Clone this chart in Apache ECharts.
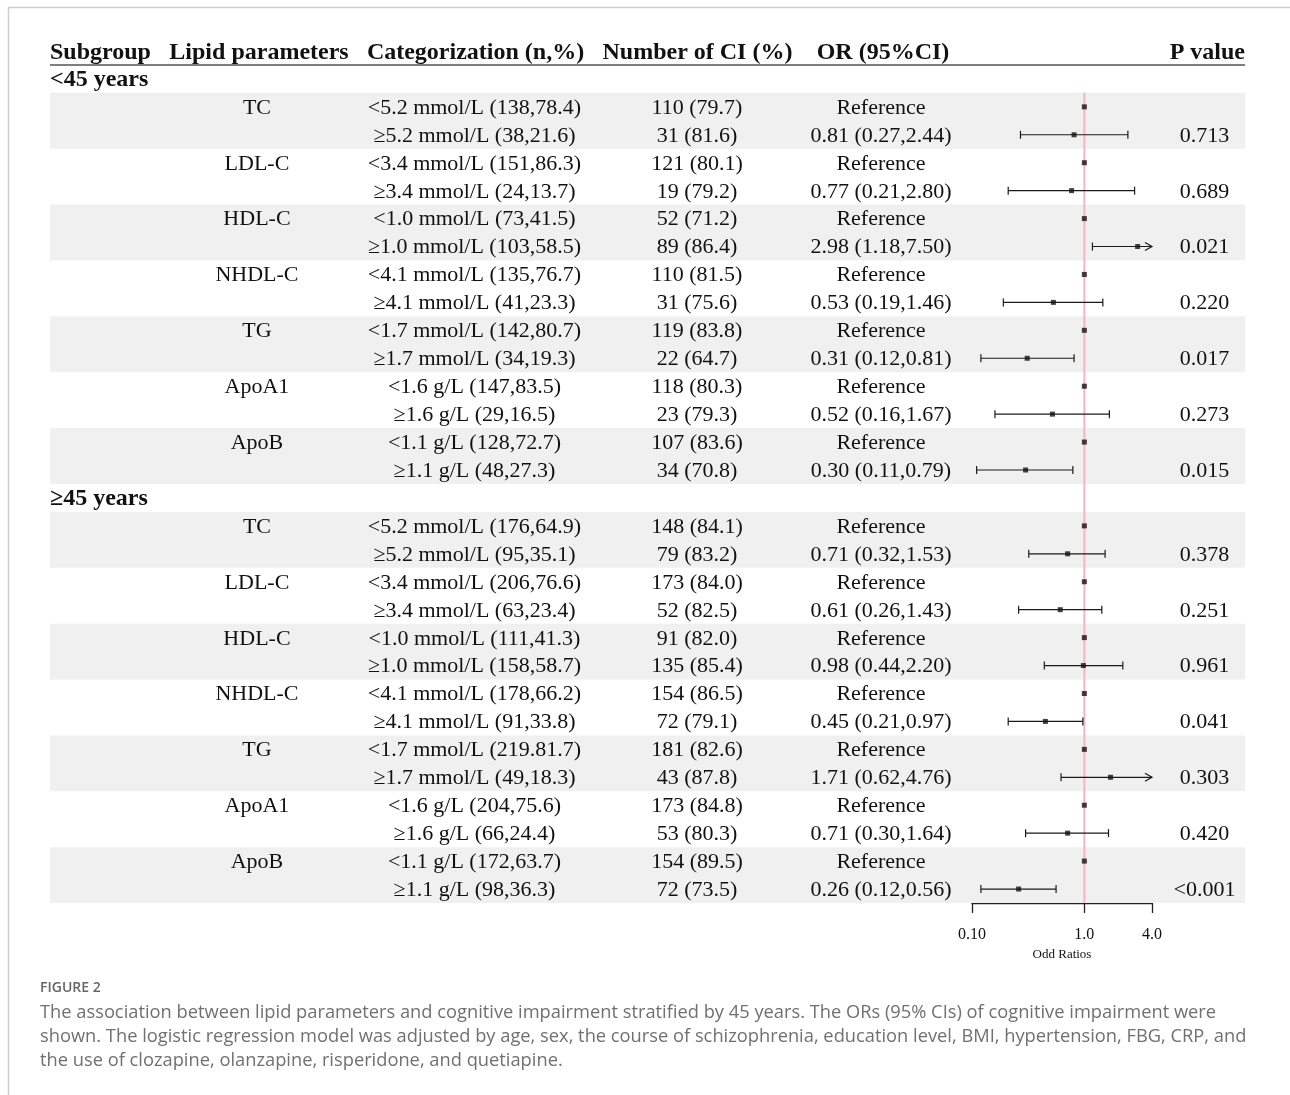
<!DOCTYPE html>
<html>
<head>
<meta charset="utf-8">
<script src="https://cdn.jsdelivr.net/npm/echarts@6/dist/echarts.min.js"></script>
<style>
  html, body { margin: 0; padding: 0; background: #fff; }
  #chart { width: 1290px; height: 1095px; }
</style>
</head>
<body>
<div id="chart"></div>
<script>
// ---- table content ----
const headers = ['Subgroup', 'Lipid parameters', 'Categorization (n,%)', 'Number of CI (%)', 'OR (95%CI)', 'P value'];
const ageGroups = ['<45 years', '≥45 years'];
const lipidParams = ['TC', 'LDL-C', 'HDL-C', 'NHDL-C', 'TG', 'ApoA1', 'ApoB'];

// <45 years
const categoriesUnder45 = [
  '<5.2 mmol/L (138,78.4)', '≥5.2 mmol/L (38,21.6)',
  '<3.4 mmol/L (151,86.3)', '≥3.4 mmol/L (24,13.7)',
  '<1.0 mmol/L (73,41.5)', '≥1.0 mmol/L (103,58.5)',
  '<4.1 mmol/L (135,76.7)', '≥4.1 mmol/L (41,23.3)',
  '<1.7 mmol/L (142,80.7)', '≥1.7 mmol/L (34,19.3)',
  '<1.6 g/L (147,83.5)', '≥1.6 g/L (29,16.5)',
  '<1.1 g/L (128,72.7)', '≥1.1 g/L (48,27.3)'
];
const numberCIUnder45 = [
  '110 (79.7)', '31 (81.6)', '121 (80.1)', '19 (79.2)', '52 (71.2)', '89 (86.4)',
  '110 (81.5)', '31 (75.6)', '119 (83.8)', '22 (64.7)', '118 (80.3)', '23 (79.3)',
  '107 (83.6)', '34 (70.8)'
];
const orUnder45 = [0.81, 0.77, 2.98, 0.53, 0.31, 0.52, 0.30];
const lowerUnder45 = [0.27, 0.21, 1.18, 0.19, 0.12, 0.16, 0.11];
const upperUnder45 = [2.44, 2.80, 7.50, 1.46, 0.81, 1.67, 0.79];
const pUnder45 = ['0.713', '0.689', '0.021', '0.220', '0.017', '0.273', '0.015'];

// ≥45 years
const categoriesOver45 = [
  '<5.2 mmol/L (176,64.9)', '≥5.2 mmol/L (95,35.1)',
  '<3.4 mmol/L (206,76.6)', '≥3.4 mmol/L (63,23.4)',
  '<1.0 mmol/L (111,41.3)', '≥1.0 mmol/L (158,58.7)',
  '<4.1 mmol/L (178,66.2)', '≥4.1 mmol/L (91,33.8)',
  '<1.7 mmol/L (219.81.7)', '≥1.7 mmol/L (49,18.3)',
  '<1.6 g/L (204,75.6)', '≥1.6 g/L (66,24.4)',
  '<1.1 g/L (172,63.7)', '≥1.1 g/L (98,36.3)'
];
const numberCIOver45 = [
  '148 (84.1)', '79 (83.2)', '173 (84.0)', '52 (82.5)', '91 (82.0)', '135 (85.4)',
  '154 (86.5)', '72 (79.1)', '181 (82.6)', '43 (87.8)', '173 (84.8)', '53 (80.3)',
  '154 (89.5)', '72 (73.5)'
];
const orOver45 = [0.71, 0.61, 0.98, 0.45, 1.71, 0.71, 0.26];
const lowerOver45 = [0.32, 0.26, 0.44, 0.21, 0.62, 0.30, 0.12];
const upperOver45 = [1.53, 1.43, 2.20, 0.97, 4.76, 1.64, 0.56];
const pOver45 = ['0.378', '0.251', '0.961', '0.041', '0.303', '0.420', '<0.001'];

// odds-ratio axis
const orTicks = [0.1, 1, 4];
const orTickLabels = ['0.10', '1.0', '4.0'];
const referenceText = 'Reference';

// ---- layout / style ----
const SERIF = '"Liberation Serif", "Times New Roman", serif';
const BODY_FONT = '22px ' + SERIF;
const BOLD_FONT = 'bold 24px ' + SERIF;
const INK = '#111';
// column anchors in table units (0..100 across the table width)
const headCols = [0, 17.49, 35.61, 54.18, 69.71, 100];
const headAlign = ['left', 'center', 'center', 'center', 'center', 'right'];
const bodyCols = { param: 17.32, cat: 35.52, num: 54.14, or: 69.54, p: 96.61 };
const TEXT_NUDGE = 0.04; // optical baseline correction, in rows
const ROW_MIN = -0.5, ROW_MAX = 30.5;
const AX_MIN = Math.log10(orTicks[0]);
const AX_MAX = Math.log10(orTicks[orTicks.length - 1]);

// ---- assemble rows ----
const headerItems = headers.map((h, i) => ({ x: headCols[i], row: 0.06, text: h, align: headAlign[i] }));
const groupItems = [];
const bodyItems = [];
const bands = [];
const ciData = [];
const pointData = [];
const refPoints = [];

function addGroup(g, cats, nums, ors, los, his, ps) {
  const base = 1 + g * 15;
  groupItems.push({ x: 0, row: base + 0.04, text: ageGroups[g], align: 'left' });
  lipidParams.forEach((name, j) => {
    const r0 = base + 1 + 2 * j, r1 = r0 + 1;
    const t0 = r0 + TEXT_NUDGE, t1 = r1 + TEXT_NUDGE;
    if (j % 2 === 0) bands.push([{ xAxis: 0, yAxis: r0 - 0.5 }, { xAxis: 100, yAxis: r1 + 0.5 }]);
    bodyItems.push({ x: bodyCols.param, row: t0, text: name, align: 'center' });
    bodyItems.push({ x: bodyCols.cat, row: t0, text: cats[2 * j], align: 'center' });
    bodyItems.push({ x: bodyCols.cat, row: t1, text: cats[2 * j + 1], align: 'center' });
    bodyItems.push({ x: bodyCols.num, row: t0, text: nums[2 * j], align: 'center' });
    bodyItems.push({ x: bodyCols.num, row: t1, text: nums[2 * j + 1], align: 'center' });
    bodyItems.push({ x: bodyCols.or, row: t0, text: referenceText, align: 'center' });
    bodyItems.push({
      x: bodyCols.or, row: t1, align: 'center',
      text: ors[j].toFixed(2) + ' (' + los[j].toFixed(2) + ',' + his[j].toFixed(2) + ')'
    });
    bodyItems.push({ x: bodyCols.p, row: t1, text: ps[j], align: 'center' });
    refPoints.push([Math.log10(1), r0]);
    pointData.push([Math.log10(ors[j]), r1]);
    ciData.push([Math.log10(ors[j]), r1, Math.log10(los[j]), Math.log10(his[j])]);
  });
}
addGroup(0, categoriesUnder45, numberCIUnder45, orUnder45, lowerUnder45, upperUnder45, pUnder45);
addGroup(1, categoriesOver45, numberCIOver45, orOver45, lowerOver45, upperOver45, pOver45);

function textSeries(items, font) {
  return {
    type: 'custom', xAxisIndex: 0, yAxisIndex: 0, z: 5, silent: true,
    data: items.map(d => [d.x, d.row]),
    renderItem(params, api) {
      const it = items[params.dataIndex];
      const pt = api.coord([api.value(0), api.value(1)]);
      return {
        type: 'text', x: pt[0], y: pt[1],
        style: { text: it.text, font: font, fill: INK, align: it.align, verticalAlign: 'middle' }
      };
    }
  };
}

const chart = echarts.init(document.getElementById('chart'), null, { renderer: 'canvas' });

const CAPTION_FONT = '18.3px "Open Sans", sans-serif';
const CAPTION_INK = '#707070';

const option = {
  backgroundColor: '#fff',
  animation: false,
  grid: [
    { left: 50, right: 45, top: 37, height: 866 },
    { left: 972, width: 180, top: 37, height: 866 }
  ],
  xAxis: [
    { gridIndex: 0, type: 'value', min: 0, max: 100, show: false },
    {
      gridIndex: 1, type: 'value', min: AX_MIN, max: AX_MAX, position: 'bottom',
      splitLine: { show: false },
      axisLine: { show: true, onZero: false, lineStyle: { color: '#222', width: 1.3 } },
      axisTick: { show: true, length: 10, lineStyle: { color: '#222', width: 1.3 },
        customValues: orTicks.map(Math.log10) },
      axisLabel: {
        customValues: orTicks.map(Math.log10),
        margin: 24, fontSize: 16, fontFamily: SERIF, color: INK,
        formatter: v => {
          let best = 0;
          orTicks.forEach((t, i) => {
            if (Math.abs(Math.log10(t) - v) < Math.abs(Math.log10(orTicks[best]) - v)) best = i;
          });
          return orTickLabels[best];
        }
      },
      name: 'Odd Ratios', nameLocation: 'middle', nameGap: 43,
      nameTextStyle: { fontSize: 13, fontFamily: SERIF, color: INK }
    }
  ],
  yAxis: [
    { gridIndex: 0, type: 'value', min: ROW_MIN, max: ROW_MAX, inverse: true, show: false },
    { gridIndex: 1, type: 'value', min: ROW_MIN, max: ROW_MAX, inverse: true, show: false }
  ],
  series: [
    // shaded row bands
    {
      type: 'line', xAxisIndex: 0, yAxisIndex: 0, z: 0, silent: true,
      data: [], symbol: 'none',
      markArea: { silent: true, itemStyle: { color: '#f0f0f0' }, data: bands }
    },
    // header underline
    {
      type: 'line', xAxisIndex: 0, yAxisIndex: 0, z: 2, silent: true, symbol: 'none',
      data: [[0, 0.5], [100, 0.5]],
      lineStyle: { color: '#555', width: 1.5 }
    },
    textSeries(headerItems, BOLD_FONT),
    textSeries(groupItems, BOLD_FONT),
    textSeries(bodyItems, BODY_FONT),
    // null line at OR = 1
    {
      type: 'line', xAxisIndex: 1, yAxisIndex: 1, z: 2, silent: true, symbol: 'none',
      data: [[0, 1.5], [0, 30.5]],
      lineStyle: { color: '#f6b3c0', width: 2 }
    },
    // confidence intervals
    {
      type: 'custom', xAxisIndex: 1, yAxisIndex: 1, z: 3, silent: true,
      data: ciData,
      renderItem(params, api) {
        const row = api.value(1);
        const lo = api.value(2), hi = api.value(3);
        const y = api.coord([0, row])[1];
        const xl = api.coord([Math.max(lo, AX_MIN), row])[0];
        const over = hi > AX_MAX;
        const xh = api.coord([Math.min(hi, AX_MAX), row])[0];
        const st = { stroke: '#1a1a1a', lineWidth: 1.2, fill: null };
        const kids = [
          { type: 'line', shape: { x1: xl, y1: y, x2: xh, y2: y }, style: st },
          { type: 'line', shape: { x1: xl, y1: y - 4, x2: xl, y2: y + 4 }, style: st }
        ];
        if (over) {
          kids.push({ type: 'polyline', shape: { points: [[xh - 7, y - 4], [xh, y], [xh - 7, y + 4]] }, style: st });
        } else {
          kids.push({ type: 'line', shape: { x1: xh, y1: y - 4, x2: xh, y2: y + 4 }, style: st });
        }
        return { type: 'group', children: kids };
      }
    },
    // point estimates and reference levels
    {
      type: 'scatter', xAxisIndex: 1, yAxisIndex: 1, z: 4, silent: true,
      symbol: 'rect', symbolSize: 5, itemStyle: { color: '#111' },
      data: pointData.concat(refPoints)
    }
  ],
  graphic: [
    { type: 'line', shape: { x1: 8, y1: 7.5, x2: 1290, y2: 7.5 }, style: { stroke: '#cfcfcf', lineWidth: 1.5 } },
    { type: 'line', shape: { x1: 8.5, y1: 7, x2: 8.5, y2: 1095 }, style: { stroke: '#cfcfcf', lineWidth: 1.5 } },
    { type: 'text', x: 40, y: 988, style: { text: 'FIGURE 2', font: '600 14px "Open Sans", sans-serif', fill: '#666', verticalAlign: 'middle' } },
    { type: 'text', x: 40, y: 1013, style: { text: 'The association between lipid parameters and cognitive impairment stratified by 45 years. The ORs (95% CIs) of cognitive impairment were', font: CAPTION_FONT, fill: CAPTION_INK, verticalAlign: 'middle' } },
    { type: 'text', x: 40, y: 1037, style: { text: 'shown. The logistic regression model was adjusted by age, sex, the course of schizophrenia, education level, BMI, hypertension, FBG, CRP, and', font: CAPTION_FONT, fill: CAPTION_INK, verticalAlign: 'middle' } },
    { type: 'text', x: 40, y: 1061, style: { text: 'the use of clozapine, olanzapine, risperidone, and quetiapine.', font: CAPTION_FONT, fill: CAPTION_INK, verticalAlign: 'middle' } }
  ]
};

chart.setOption(option);
</script>
</body>
</html>
